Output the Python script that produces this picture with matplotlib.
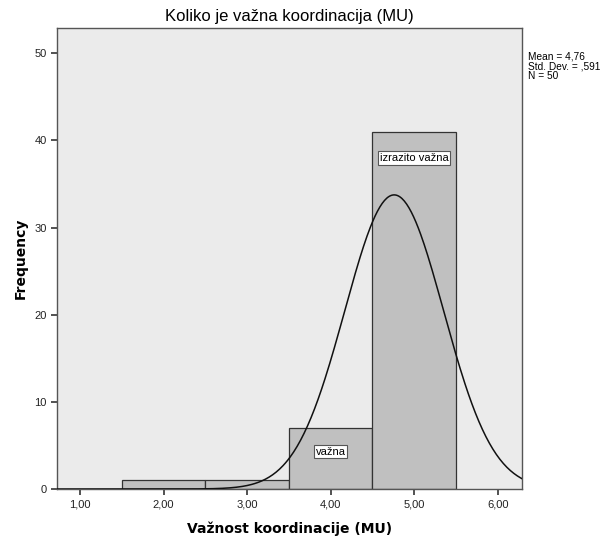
import numpy as np
import matplotlib
matplotlib.use('Agg')
import matplotlib.pyplot as plt

plt.rcParams['font.family'] = ['Liberation Sans', 'DejaVu Sans']

# histogram data
bin_left = [1.5, 2.5, 3.5, 4.5]
counts = [1, 1, 7, 41]
label_x = [4.0, 5.0]
label_y = [4.3, 38.0]
label_txt = ['važna', 'izrazito važna']
mean, sd, n = 4.76, 0.591, 50
xticks = [1, 2, 3, 4, 5, 6]
xtick_labels = ['1,00', '2,00', '3,00', '4,00', '5,00', '6,00']
yticks = [0, 10, 20, 30, 40, 50]

fig = plt.figure(figsize=(6.15, 5.41), dpi=100)
ax = fig.add_axes([0.0927, 0.0961, 0.7561, 0.8521])
ax.set_facecolor('#ebebeb')

ax.bar(bin_left, counts, width=1.0, align='edge', color='#c0c0c0',
       edgecolor='#333333', linewidth=0.9, zorder=2)

# normal curve scaled to counts (bin width 1)
xs = np.linspace(0.725, 6.29, 400)
ys = n * 1.0 / (sd * np.sqrt(2 * np.pi)) * np.exp(-0.5 * ((xs - mean) / sd) ** 2)
ax.plot(xs, ys, color='#111111', linewidth=1.1, zorder=3)

for x, y, t in zip(label_x, label_y, label_txt):
    ax.text(x, y, t, ha='center', va='center', fontsize=8, zorder=4,
            bbox=dict(boxstyle='square,pad=0.15', facecolor='white',
                      edgecolor='#555555', linewidth=0.8))

ax.set_xlim(0.725, 6.29)
ax.set_ylim(0, 52.9)
ax.set_xticks(xticks)
ax.set_xticklabels(xtick_labels)
ax.set_yticks(yticks)
ax.tick_params(axis='both', direction='out', length=4, width=1.2,
               color='#333333', labelsize=8, labelcolor='#222222')
for s in ax.spines.values():
    s.set_color('#555555')
    s.set_linewidth(1.0)

ax.set_title('Koliko je važna koordinacija (MU)', fontsize=12,
             color='#000000', pad=5)
ax.set_xlabel('Važnost koordinacije (MU)', fontsize=10, fontweight='bold',
              family='DejaVu Sans', labelpad=9)
ax.set_ylabel('Frequency', fontsize=10, fontweight='bold',
              family='DejaVu Sans', labelpad=5)

fig.text(0.859, 0.905, 'Mean = 4,76\nStd. Dev. = ,591\nN = 50', fontsize=7.3,
         ha='left', va='top', linespacing=1.0)

plt.savefig('out.png', dpi=100)
